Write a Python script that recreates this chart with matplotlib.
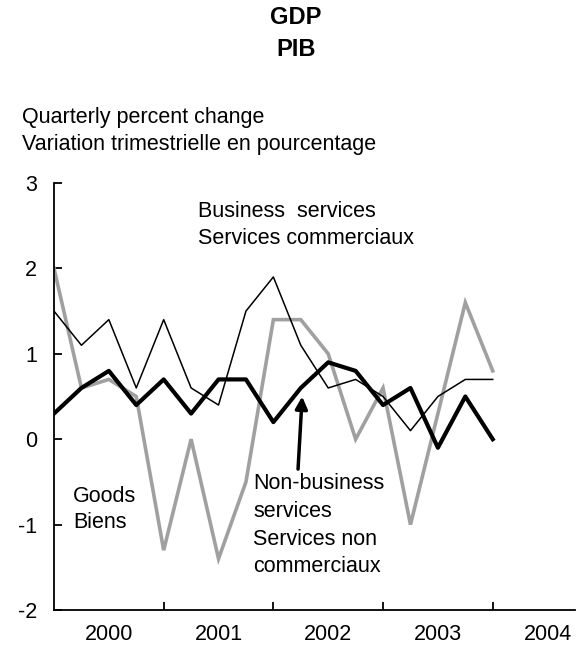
import matplotlib
matplotlib.use("Agg")
import matplotlib.pyplot as plt
import numpy as np

plt.rcParams["font.family"] = ["Liberation Sans", "DejaVu Sans"]
plt.rcParams["axes.unicode_minus"] = False

# quarterly percent change, 2000Q1 .. 2004Q1
goods = [2.0, 0.6, 0.7, 0.5, -1.3, 0.0, -1.4, -0.5, 1.4, 1.4, 1.0, 0.0, 0.6, -1.0, 0.3, 1.6, 0.8]
business = [1.5, 1.1, 1.4, 0.6, 1.4, 0.6, 0.4, 1.5, 1.9, 1.1, 0.6, 0.7, 0.5, 0.1, 0.5, 0.7, 0.7]
non_business = [0.3, 0.6, 0.8, 0.4, 0.7, 0.3, 0.7, 0.7, 0.2, 0.6, 0.9, 0.8, 0.4, 0.6, -0.1, 0.5, 0.0]
years = ["2000", "2001", "2002", "2003", "2004"]

fs = 15.5
W, H = 587, 645
fig = plt.figure(figsize=(W / 100, H / 100), dpi=100)
ax = fig.add_axes([54 / W, 35 / H, (575 - 54) / W, (610 - 183) / H])

x = np.arange(len(goods))
ax.plot(x, goods, color="#a0a0a0", lw=2.6, solid_joinstyle="miter")
ax.plot(x, business, color="black", lw=1.1)
ax.plot(x, non_business, color="black", lw=3.0)

ax.set_xlim(0, 19)
ax.set_ylim(-2, 3)
ax.spines["top"].set_visible(False)
ax.spines["right"].set_visible(False)
for s in ("left", "bottom"):
    ax.spines[s].set_linewidth(1.3)

ax.set_yticks([-2, -1, 0, 1, 2, 3])
ax.tick_params(axis="y", direction="in", length=6, width=1.3, pad=12, labelsize=fs)
ax.set_xticks([4, 8, 12, 16])
ax.set_xticklabels([])
ax.tick_params(axis="x", direction="in", length=6, width=1.3)
for i, yr in enumerate(years):
    ax.text(2 + 4 * i, -2.29, yr, ha="center", va="center", fontsize=fs)

ax.text(5.26, 2.67, "Business  services", fontsize=fs, va="center")
ax.text(5.26, 2.35, "Services commerciaux", fontsize=fs, va="center")
ax.text(0.7, -0.67, "Goods", fontsize=fs, va="center")
ax.text(0.7, -0.98, "Biens", fontsize=fs, va="center")
for k, line in enumerate(["Non-business", "services", "Services non", "commerciaux"]):
    ax.text(7.26, -0.52 - 0.325 * k, line, fontsize=fs, va="center")

ax.annotate("", xy=(9.05, 0.5), xytext=(8.9, -0.35),
            arrowprops=dict(arrowstyle="-|>", color="black", lw=2.5,
                            mutation_scale=18, shrinkA=0, shrinkB=0))

fig.text(296 / W, 1 - 18 / H, "GDP", ha="center", va="center", fontsize=17, fontweight="bold")
fig.text(296 / W, 1 - 50 / H, "PIB", ha="center", va="center", fontsize=17, fontweight="bold")
fig.text(22 / W, 1 - 118 / H, "Quarterly percent change", ha="left", va="center", fontsize=fs)
fig.text(22 / W, 1 - 145 / H, "Variation trimestrielle en pourcentage", ha="left", va="center", fontsize=fs)

fig.savefig("out.png", dpi=100)
